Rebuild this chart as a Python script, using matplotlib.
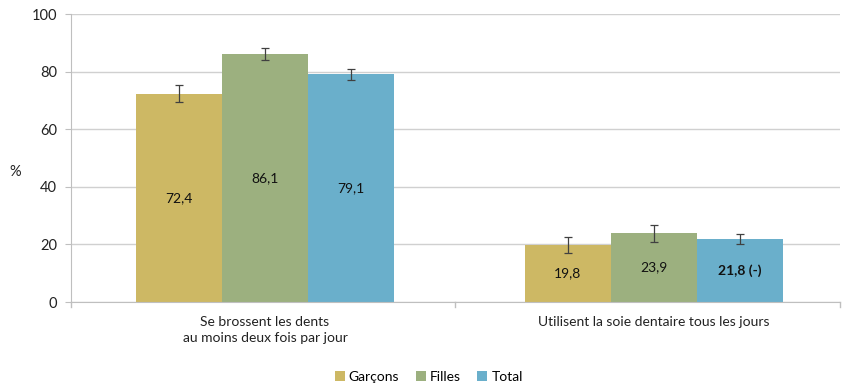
import numpy as np
from matplotlib import pyplot as plt
from matplotlib.patches import Patch

plt.rcParams['font.family'] = ['Lato', 'DejaVu Sans']

categories = ['Se brossent les dents\nau moins deux fois par jour',
              'Utilisent la soie dentaire tous les jours']
series = ['Garçons', 'Filles', 'Total']
values = [[72.4, 19.8],
          [86.1, 23.9],
          [79.1, 21.8]]
errors = [[3.0, 2.9],
          [2.2, 3.0],
          [1.9, 1.7]]
labels = [['72,4', '19,8'],
          ['86,1', '23,9'],
          ['79,1', '21,8 (-)']]
bold = [[False, False], [False, False], [False, True]]
colors = ['#CDB864', '#9CB07F', '#6AAFCB']

fig = plt.figure(figsize=(8.44, 3.84), dpi=100)
ax = fig.add_axes([0.084, 0.2135, 0.911, 0.75])

x = np.array([0.005, 1.016])
w = 0.224
for i, s in enumerate(series):
    xs = x + (i - 1) * w
    ax.bar(xs, values[i], width=w, color=colors[i], zorder=2)
    ax.errorbar(xs, values[i], yerr=errors[i], fmt='none', ecolor='#404040',
                elinewidth=0.9, capsize=3, capthick=0.9, zorder=3)
    for j in range(len(categories)):
        ax.text(xs[j], values[i][j] / 2, labels[i][j], ha='center', va='center',
                fontsize=10, color='#111111',
                fontweight='bold' if bold[i][j] else 'normal')

ax.set_xlim(-0.5, 1.5)
ax.set_ylim(0, 100)
ax.set_yticks(range(0, 101, 20))
ax.yaxis.grid(True, color='#D0D0D0', linewidth=1, zorder=0)
ax.set_axisbelow(True)
ax.set_xticks(x)
ax.set_xticklabels(categories, fontsize=10, color='#222222', linespacing=1.45)
ax.tick_params(axis='x', length=0, pad=10)
ax.tick_params(axis='y', labelsize=10.5, colors='#222222', length=4,
               color='#BFBFBF', pad=6)
for sp in ['top', 'right']:
    ax.spines[sp].set_visible(False)
ax.spines['left'].set_color('#BFBFBF')
ax.spines['bottom'].set_color('#BFBFBF')

# ticks between categories on the x axis
for xb in [-0.5, 0.5, 1.5]:
    ax.plot([xb, xb], [0, -1.8], color='#BFBFBF', lw=1, clip_on=False)

ax.set_ylabel('%', rotation=0, fontsize=10.5, color='#222222',
              ha='center', va='center')
ax.yaxis.set_label_coords(-0.073, 0.45)

handles = [Patch(facecolor=c) for c in colors]
fig.legend(handles, series, loc='lower center', ncol=3, frameon=False,
           bbox_to_anchor=(0.508, -0.03), fontsize=10, handlelength=0.7,
           handleheight=0.7, handletextpad=0.3, columnspacing=1.2)

plt.savefig('out.png', dpi=100)
